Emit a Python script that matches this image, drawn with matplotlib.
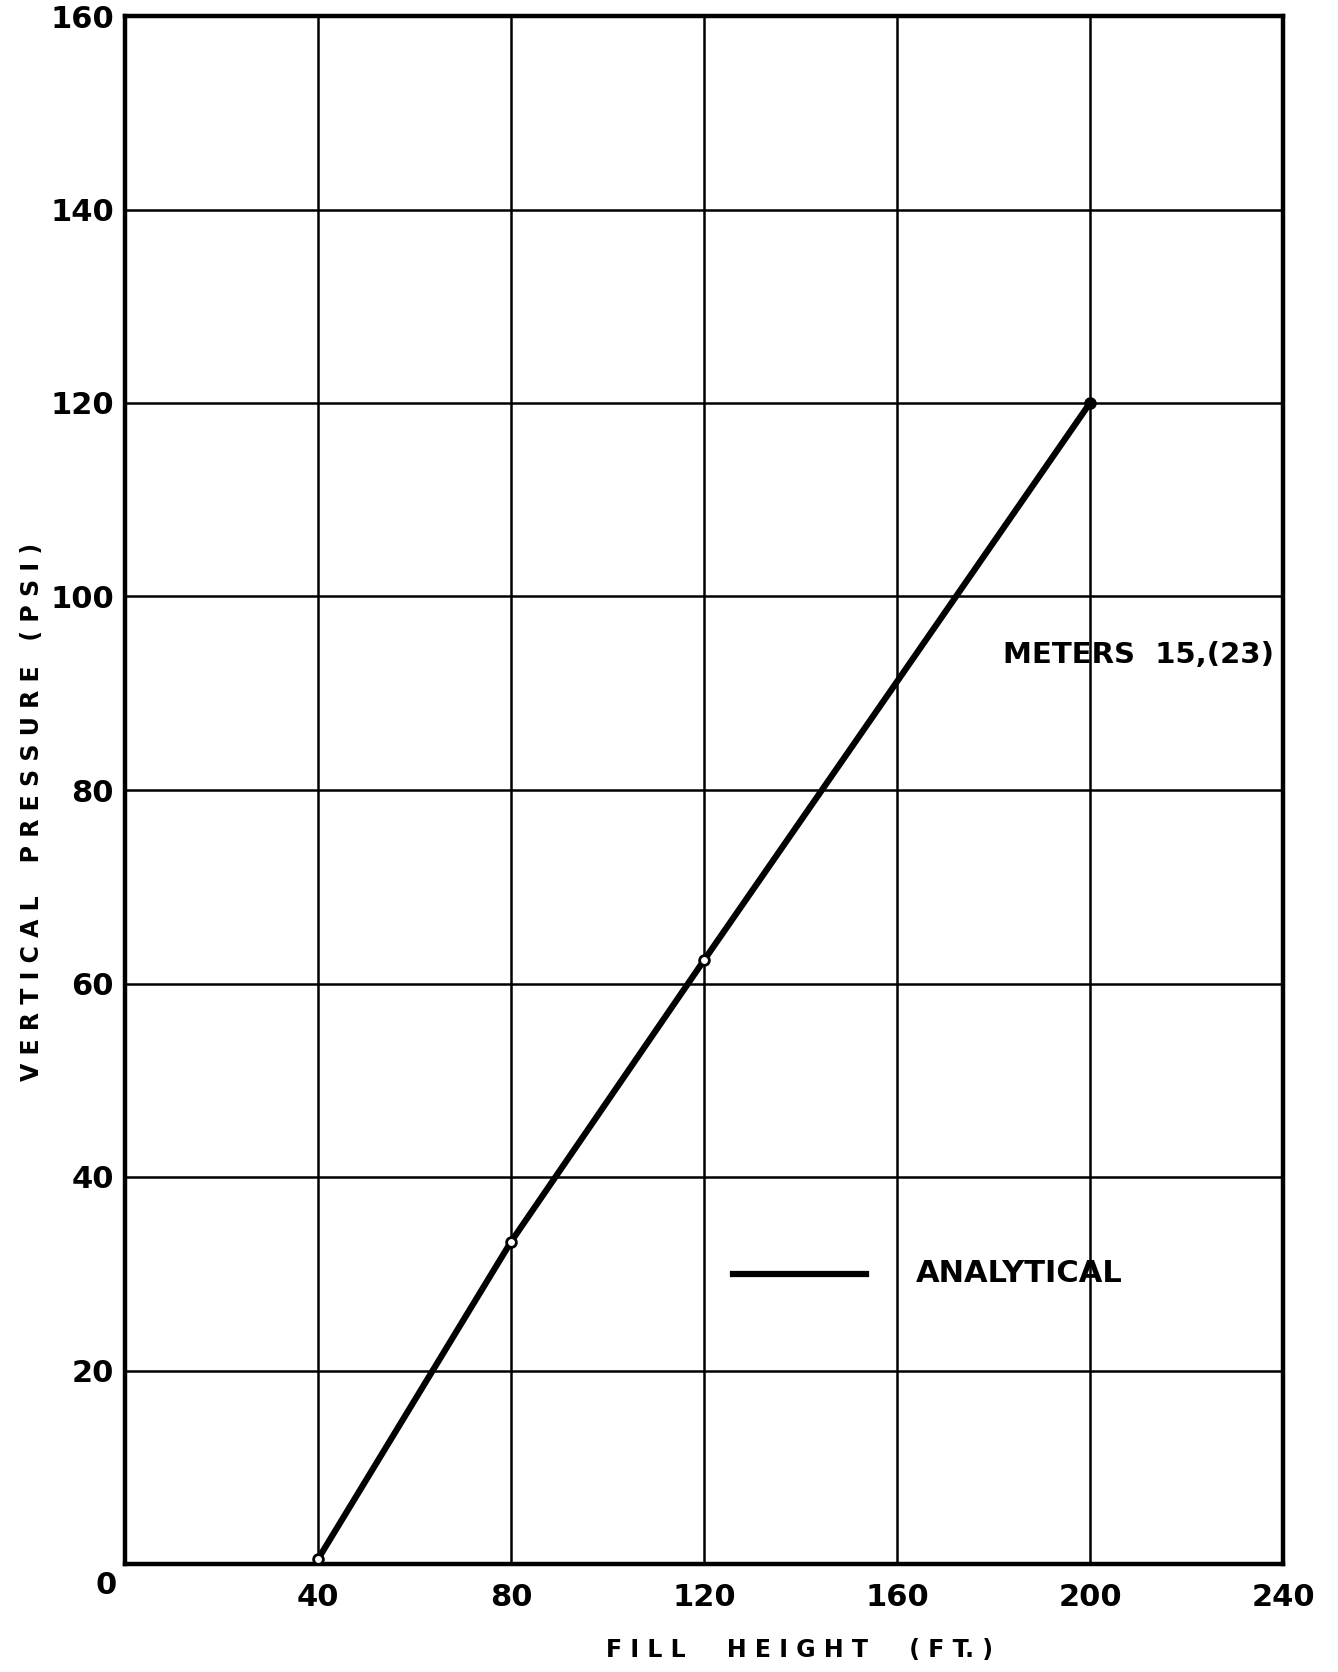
import matplotlib
matplotlib.use('Agg')
import matplotlib.pyplot as plt

# Data
fill_height = [40, 80, 120, 200]        # ft
vertical_pressure = [0.5, 33.3, 62.4, 120.0]  # psi
open_marker = [True, True, True, False]

x_ticks = [40, 80, 120, 160, 200, 240]
y_ticks = [20, 40, 60, 80, 100, 120, 140, 160]

plt.rcParams['font.family'] = ['DejaVu Sans']
plt.rcParams['font.weight'] = 'bold'

fig = plt.figure(figsize=(13.38, 16.72), dpi=100)
ax = fig.add_axes([125 / 1338, 1 - 1564 / 1672, (1283 - 125) / 1338, (1564 - 16) / 1672])

ax.set_xlim(0, 240)
ax.set_ylim(0, 160)

# grid
for xv in x_ticks[:-1]:
    ax.axvline(xv, color='black', lw=1.8, zorder=1)
for yv in y_ticks[:-1]:
    ax.axhline(yv, color='black', lw=1.8, zorder=1)

for s in ax.spines.values():
    s.set_linewidth(3.2)

# analytical curve
ax.plot(fill_height, vertical_pressure, color='black', lw=4.5, zorder=3, solid_capstyle='round')
for x, y, op in zip(fill_height, vertical_pressure, open_marker):
    ax.plot(x, y, 'o', ms=7, mew=2, mec='black', mfc='white' if op else 'black', zorder=4)

# legend key drawn inside the plot
ax.plot([126, 153.5], [30, 30], color='black', lw=4.5, zorder=3)
ax.text(164, 30, 'ANALYTICAL', fontsize=22, fontweight='semibold', va='center', ha='left')
ax.text(182, 94, 'METERS  15,(23)', fontsize=21, fontweight='semibold', va='center', ha='left')

ax.set_xticks(x_ticks)
ax.set_xticklabels([str(v) for v in x_ticks])
ax.set_yticks(y_ticks)
ax.set_yticklabels([str(v) for v in y_ticks])
ax.tick_params(axis='both', length=0, labelsize=22)
ax.tick_params(axis='x', pad=14)
ax.tick_params(axis='y', pad=8)
ax.text(-4, -2.2, '0', fontsize=22, fontweight='bold', ha='center', va='center')

fig.text(800 / 1338, 1 - 1650 / 1672, 'F I L L     H E I G H T     ( F T. )',
         fontsize=17, fontweight='bold', ha='center', va='center')
fig.text(32 / 1338, 1 - 812 / 1672, 'V E R T I C A L    P R E S S U R E   ( P S I )',
         fontsize=17, fontweight='bold', ha='center', va='center', rotation=90)

fig.savefig('out.png', dpi=100)
